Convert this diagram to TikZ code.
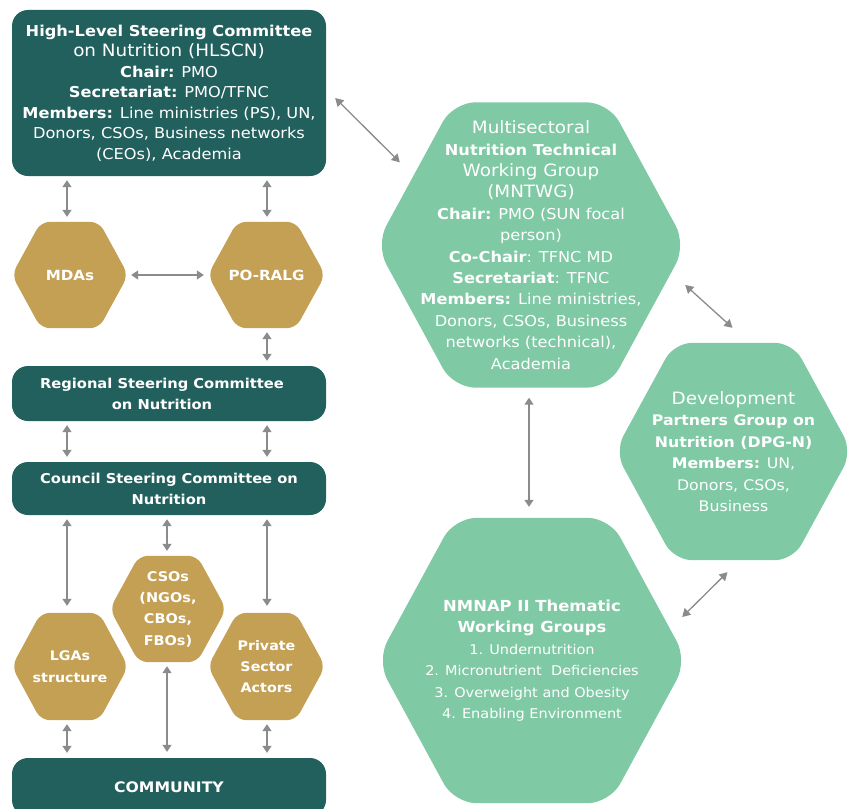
\documentclass[tikz,border=0pt]{standalone}
\usepackage{fontspec}
\setmainfont{DejaVu Sans}[FakeStretch=1.08]
\usetikzlibrary{arrows.meta,calc,backgrounds}
\definecolor{tealbox}{RGB}{34,96,94}
\definecolor{goldhex}{RGB}{196,160,84}
\definecolor{greenhex}{RGB}{128,201,165}
\definecolor{arrowgray}{RGB}{138,139,141}
\newcommand\fsz[2]{\fontsize{#1}{#2}\selectfont}
\newcommand\lgline[1]{{\fontsize{17}{20.5}\selectfont #1}}
\newcommand\hexfill[3]{%
  \begin{pgfonlayer}{background}
  \fill[#2, rounded corners=#3] (#1.west)
    -- ($(#1.north west)!.25!(#1.north east)$)
    -- ($(#1.north west)!.75!(#1.north east)$)
    -- (#1.east)
    -- ($(#1.south west)!.75!(#1.south east)$)
    -- ($(#1.south west)!.25!(#1.south east)$) -- cycle;
  \end{pgfonlayer}}
\tikzset{
  tbox/.style={fill=tealbox, rounded corners=16pt, text=white, align=center, inner sep=0pt},
  hexn/.style={text=white, align=center, inner sep=0pt},
  conn/.style={draw=arrowgray, line width=1.5pt,
    {Triangle[width=9pt,length=7pt]}-{Triangle[width=9pt,length=7pt]},
    shorten <=4pt, shorten >=5pt},
  diag/.style={draw=arrowgray, line width=1.3pt,
    {Triangle[width=9pt,length=8pt]}-{Triangle[width=9pt,length=8pt]}}
}
\begin{document}
\begin{tikzpicture}[x=1pt,y=-1pt]
\useasboundingbox (0,0) rectangle (850,808);

% teal boxes
\node[tbox, minimum width=314, minimum height=166, font=\fsz{15}{20.5}] (hl) at (169,93)
  {\textbf{High-Level Steering Committee}\\ \lgline{on Nutrition (HLSCN)}\\ \textbf{Chair:} PMO\\ \textbf{Secretariat:} PMO/TFNC\\ \textbf{Members:} Line ministries (PS), UN,\\ Donors, CSOs, Business networks\\ (CEOs), Academia};
\node[tbox, minimum width=314, minimum height=55, font=\fsz{13.6}{21}\bfseries] (reg) at (169,393.5)
  {Regional Steering Committee\hspace*{14pt}\\ on Nutrition\hspace*{14pt}};
\node[tbox, minimum width=314, minimum height=53, font=\fsz{13.6}{21}\bfseries] (cou) at (169,488.5)
  {Council Steering Committee on\\ Nutrition};
\node[tbox, minimum width=314, minimum height=58, font=\fsz{14.5}{20}\bfseries] (com) at (169,787)
  {COMMUNITY};

% gold hexagons
\node[hexn, minimum width=116, minimum height=106, font=\fsz{14}{21}\bfseries] (mdas) at (70,275) {MDAs};
\hexfill{mdas}{goldhex}{9pt}
\node[hexn, minimum width=117, minimum height=106, font=\fsz{14}{21}\bfseries] (poralg) at (266.5,275) {PO-RALG};
\hexfill{poralg}{goldhex}{9pt}
\node[hexn, minimum width=116, minimum height=106, font=\fsz{13.4}{21.3}\bfseries] (csos) at (168,609) {CSOs\\ (NGOs,\\ CBOs,\\ FBOs)};
\hexfill{csos}{goldhex}{9pt}
\node[hexn, minimum width=116, minimum height=107, font=\fsz{13.2}{21.5}\bfseries] (lgas) at (70,666.5) {\raisebox{-4pt}{LGAs}\\ \raisebox{-4pt}{structure}};
\hexfill{lgas}{goldhex}{9pt}
\node[hexn, minimum width=117, minimum height=107, font=\fsz{13.2}{21.3}\bfseries] (priv) at (266.5,666.5) {Private\\ Sector\\ Actors};
\hexfill{priv}{goldhex}{9pt}

% green hexagons
\node[hexn, minimum width=310, minimum height=285, font=\fsz{15}{21.4}] (mntwg) at (531,245)
  {\lgline{Multisectoral}\\ \textbf{Nutrition Technical}\\ \lgline{Working Group}\\ \lgline{(MNTWG)}\\ \textbf{Chair:} PMO (SUN focal\\ person)\\ \textbf{Co-Chair}: TFNC MD\\ \textbf{Secretariat}: TFNC\\ \textbf{Members:} Line ministries,\\ Donors, CSOs, Business\\ networks (technical),\\ Academia};
\hexfill{mntwg}{greenhex}{22pt}
\node[hexn, minimum width=237, minimum height=217, font=\fsz{14.6}{21.5}] (dpgn) at (733.5,451.5)
  {\lgline{Development}\\ \textbf{Partners Group on}\\ \textbf{Nutrition (DPG-N)}\\ \textbf{Members:} UN,\\ Donors, CSOs,\\ Business};
\hexfill{dpgn}{greenhex}{18pt}
\node[hexn, minimum width=310, minimum height=285, font=\fsz{13.4}{21.5}] (nmnap) at (532,660.5)
  {{\fontsize{15.2}{21.5}\selectfont\bfseries NMNAP II Thematic}\\ {\fontsize{15.2}{21.5}\selectfont\bfseries Working Groups}\\ 1. Undernutrition\\ 2. Micronutrient\ \ Deficiencies\\ 3. Overweight and Obesity\\ 4. Enabling Environment};
\hexfill{nmnap}{greenhex}{22pt}

% left column connectors
\draw[conn] (hl.south -| 67,0) -- (mdas.north -| 67,0);
\draw[conn] (hl.south -| 267,0) -- (poralg.north -| 267,0);
\draw[conn, shorten <=3pt, shorten >=4pt] (mdas.east) -- (poralg.west);
\draw[conn] (poralg.south -| 267,0) -- (reg.north -| 267,0);
\draw[conn] (reg.south -| 67,0) -- (cou.north -| 67,0);
\draw[conn] (reg.south -| 267,0) -- (cou.north -| 267,0);
\draw[conn, shorten >=7pt] (cou.south -| 67,0) -- (lgas.north -| 67,0);
\draw[conn] (cou.south -| 167,0) -- (csos.north -| 167,0);
\draw[conn, shorten >=7pt] (cou.south -| 267,0) -- (priv.north -| 267,0);
\draw[conn] (lgas.south -| 67,0) -- (com.north -| 67,0);
\draw[conn, shorten >=6pt] (csos.south -| 167,0) -- (com.north -| 167,0);
\draw[conn] (priv.south -| 267,0) -- (com.north -| 267,0);

% right side connectors
\draw[diag] ($(hl.east)+(9,5)$) -- ($(mntwg.north west)+(24,60)$);
\draw[diag] ($(mntwg.east)+(-1,40)$) -- ($(dpgn.north)+(-1,-15)$);
\draw[diag] ($(dpgn.south)+(-6,12)$) -- ($(nmnap.east)+(-5,-43.5)$);
\draw[conn, shorten <=10pt, shorten >=11pt] (mntwg.south -| 529,0) -- (nmnap.north -| 529,0);
\end{tikzpicture}
\end{document}
